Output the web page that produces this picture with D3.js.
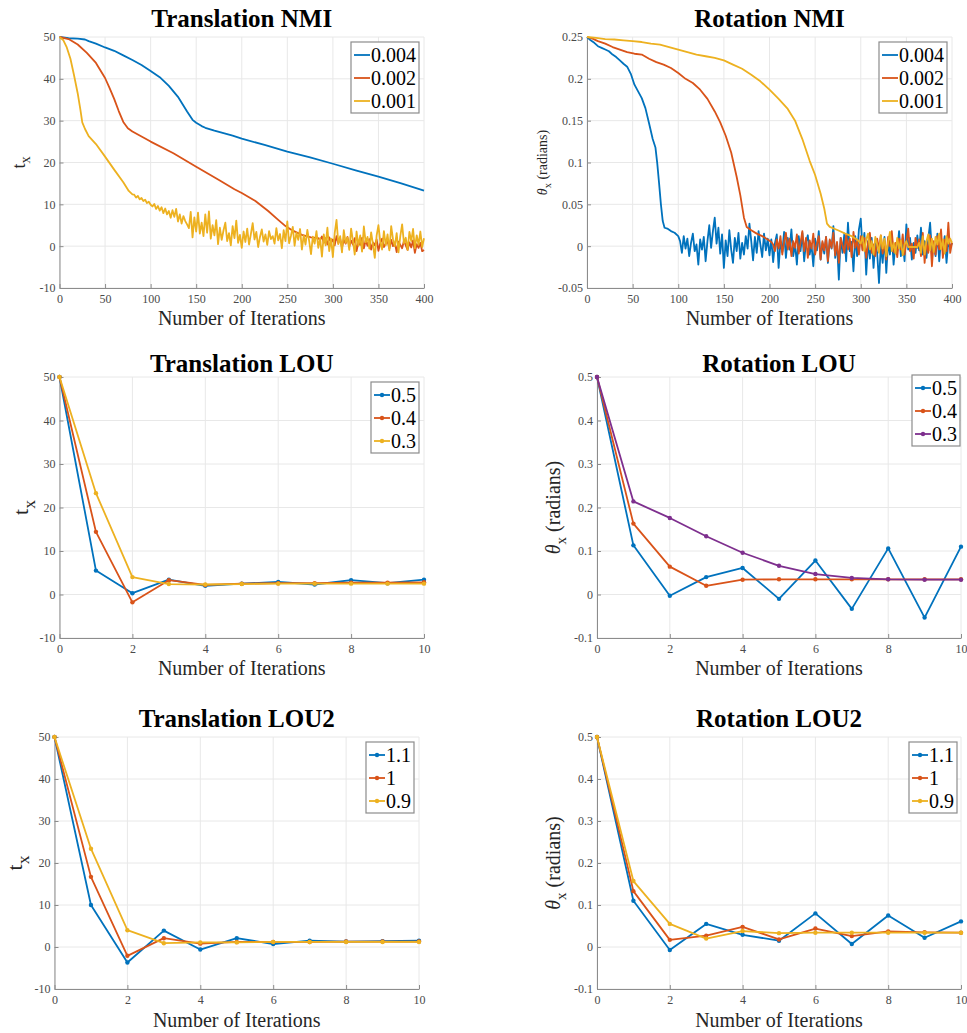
<!DOCTYPE html>
<html>
<head>
<meta charset="utf-8">
<script src="https://cdn.jsdelivr.net/npm/d3@7"></script>
<style>
  body { margin: 0; background: #fff; }
  svg { display: block; }
</style>
</head>
<body>
<div id="chart"></div>
<script>
// ---------------- data ----------------
var nmiLegend = ["0.004", "0.002", "0.001"];
var louLegend = ["0.5", "0.4", "0.3"];
var lou2Legend = ["1.1", "1", "0.9"];

var nmiTicksX = [0, 50, 100, 150, 200, 250, 300, 350, 400];
var louTicksX = [0, 2, 4, 6, 8, 10];
var transTicksY = [-10, 0, 10, 20, 30, 40, 50];
var rotNmiTicksY = [-0.05, 0, 0.05, 0.1, 0.15, 0.2, 0.25];
var rotLouTicksY = [-0.1, 0, 0.1, 0.2, 0.3, 0.4, 0.5];

// Translation NMI  [iteration, tx]
var tNmi004 = [[0,50],[10,49.7],[20,49.6],[28,49.4],[32,49],[40,48.4],[50,47.5],[60,46.7],[70,45.6],[80,44.5],
  [90,43.3],[100,41.9],[110,40.4],[120,38.3],[130,35.7],[140,32.2],[146,30.2],[150,29.5],[156,28.7],[160,28.3],
  [170,27.6],[180,27.0],[190,26.4],[200,25.7],[225,24.2],[250,22.6],[275,21.2],[300,19.7],[325,18.1],[350,16.6],[375,15.0],[400,13.3]];

var tNmi002 = [[0,50],[10,49.5],[20,48.2],[30,46.2],[40,43.8],[50,40.2],[55,37.8],[60,35.2],[65,32.3],[70,29.7],
  [75,28.2],[80,27.4],[90,26.2],[100,25],[125,22.2],[150,19],[175,15.8],[192,13.6],[200,12.7],[215,10.8],
  [229,8.4],[240,6.3],[248,4.8],[256,3.7],[266,2.7],[276,2.1],[284,1.9]];
var tNmi002NoiseStart = 286;
var tNmi002Noise = [1.5, 2.3, 0.8, 1.9, 0.4, 2.1, 0.9, 1.6,
  0.2, 2.4, 0.7, 1.8, -0.3, 1.5, 0.6, 2.2, -0.1, 1.3,
  0.4, 1.9, -1.2, 1.0, 0.3, 2.0, -0.5, 1.4, 0.1, 1.7,
  -0.8, 0.9, 0.2, 1.6, -1.1, 0.7, 1.8, -0.2, 0.6, 1.2,
  -0.6, 1.5, 0.0, 0.8, -1.4, 1.1, 0.3, -0.5, 1.3, 0.2,
  -0.9, 0.9, -0.3, 1.4, -1.6, 0.5, -0.4, 0.8, -1.2, -0.9];

var tNmi001 = [[0,50],[4,49.3],[8,47.5],[12,44.8],[16,40.8],[20,36.5],[23,32.5],[25,29.6],[28,28],[32,26.3],
  [40,24.4],[50,21.4],[60,18.3],[70,15.3],[76,13.2],[80,12.4]];
var tNmi001NoiseStart = 82;
var tNmi001Noise = [12.3, 11.6, 12.0, 11.2, 11.5, 10.8, 11.1, 10.3, 10.6, 9.9,
  9.5, 10.1, 8.9, 9.6, 8.5, 9.3, 7.9, 9.0, 7.6, 8.4,
  6.8, 8.6, 7.0, 8.9, 5.9, 7.6, 5.4, 7.2, 6.0, 5.2,
  4.3, 8.2, 2.1, 6.9, 3.5, 8.0, 3.0, 5.6, 2.4, 7.6,
  3.2, 8.3, 1.8, 5.0, 2.6, 6.2, 0.5, 4.4, 1.5, 3.8,
  5.6, 1.2, 3.1, 0.2, 4.8, 1.9, 6.1, 0.8, 2.7, -0.4,
  3.5, 1.0, 4.2, 0.4, 2.9, 5.5, 1.6, 3.4, -0.2, 2.2,
  4.0, 1.1, 2.8, 0.3, 3.6, 1.7, 2.4, 0.6, 4.3, 1.4,
  2.9, -0.5, 3.8, 1.2, 5.9, 0.7, 2.5, 4.6, 0.1, 3.3,
  1.5, 4.1, -0.8, 2.6, 0.4, 3.9, 1.2, -1.9, 2.3, 0.6,
  3.6, -0.4, 1.9, -2.5, 2.8, 0.2, 4.4, -1.2, 1.8, -2.6,
  3.1, 6.3, 0.5, 2.4, -1.5, 3.8, 0.8, 2.1, -0.9, 4.2,
  1.3, -2.0, 3.5, 0.1, 2.6, -1.3, 4.7, 0.9, 2.2, -0.6,
  3.3, 0.4, -2.8, 2.5, 5.0, 1.1, -0.8, 3.6, 0.2, 2.8,
  -1.0, 4.8, 1.6, 0.0, 3.1, -1.5, 2.4, 5.2, 0.7, 2.0,
  -0.9, 3.4, 1.2, 4.1, -0.5, 2.6, 0.3, 3.5, -0.2, 1.9];

// Rotation NMI  [iteration, theta_x]
var rNmi004 = [[0,0.25],[4,0.246],[8,0.243],[12,0.239],[16,0.237],[20,0.235],[24,0.233],[28,0.229],[32,0.226],
  [36,0.222],[40,0.218],[44,0.2145],[48,0.206],[52,0.193],[56,0.185],[60,0.177],[64,0.165],[68,0.147],[72,0.128],
  [75,0.118],[77,0.099],[79,0.075],[81,0.05],[83,0.03],[85,0.022],[88,0.021],[92,0.018],[96,0.016],[100,0.012]];
var rNmi004NoiseStart = 102;
var rNmi004Noise = [0.006, -0.008, 0.012, -0.003, 0.009, -0.012, 0.004, 0.015, -0.006, 0.002,
  -0.022, 0.008, -0.004, 0.011, -0.018, 0.006, 0.025, -0.002, 0.018, 0.034,
  0.003, 0.022, -0.009, 0.014, -0.026, 0.007, -0.012, 0.019, -0.004, -0.020,
  0.010, -0.006, 0.016, -0.015, 0.004, -0.010, 0.012, -0.003, 0.027, 0.006,
  -0.017, 0.011, -0.008, 0.018, 0.002, -0.013, 0.015, -0.005, 0.009, -0.011,
  0.008, -0.019, 0.004, 0.014, -0.026, 0.006, -0.007, 0.017, -0.014, 0.010,
  -0.004, 0.020, -0.012, 0.003, -0.022, 0.012, -0.006, 0.016, -0.018, 0.005,
  0.013, -0.010, 0.002, -0.024, 0.009, -0.005, 0.018, -0.016, 0.004, -0.009,
  0.011, -0.020, 0.007, -0.003, 0.024, -0.014, 0.003, -0.040, 0.010, -0.008,
  0.015, -0.018, 0.028, -0.006, 0.005, -0.030, 0.012, -0.012, 0.020, 0.033,
  -0.004, 0.016, -0.034, 0.006, -0.015, 0.010, -0.026, 0.004, -0.008, -0.044,
  0.002, -0.020, 0.011, -0.032, 0.006, -0.010, 0.014, -0.022, 0.003, -0.006,
  0.018, -0.012, 0.007, -0.018, 0.026, -0.004, 0.010, -0.016, 0.004, -0.008,
  0.013, -0.005, 0.022, -0.010, 0.006, -0.014, 0.009, 0.028, -0.006, 0.003,
  -0.012, 0.015, -0.018, 0.008, -0.004, 0.012, -0.020, 0.006, -0.002, 0.004];

var rNmi002 = [[0,0.25],[6,0.248],[12,0.245],[20,0.242],[28,0.238],[36,0.235],[44,0.232],[52,0.23],[60,0.229],
  [68,0.224],[76,0.22],[84,0.217],[92,0.213],[100,0.207],[108,0.2],[116,0.195],[124,0.187],[132,0.176],[140,0.161],
  [146,0.148],[152,0.132],[158,0.112],[164,0.083],[168,0.061],[172,0.034],[175,0.023],[180,0.019],[186,0.015],
  [192,0.012],[198,0.008],[202,0.005]];
var rNmi002NoiseStart = 204;
var rNmi002Noise = [0.002, -0.006, 0.008, -0.003, 0.012, -0.010, 0.005, 0.016, -0.004, 0.009,
  -0.012, 0.006, -0.002, 0.014, -0.009, 0.004, 0.018, -0.006, 0.010, -0.014,
  0.007, -0.003, 0.015, -0.010, 0.003, 0.012, -0.016, 0.006, -0.005, 0.011,
  -0.018, 0.008, -0.002, 0.016, -0.011, 0.005, -0.020, 0.010, 0.001, -0.008,
  0.014, -0.004, 0.009, -0.013, 0.017, -0.002, 0.006, -0.010, 0.012, -0.005,
  0.010, -0.014, 0.004, 0.016, -0.008, 0.002, -0.012, 0.009, -0.003, 0.013,
  -0.009, 0.006, -0.016, 0.011, 0.000, 0.018, -0.007, 0.004, -0.013, 0.009,
  -0.004, 0.014, -0.010, 0.006, 0.021, -0.006, 0.003, -0.015, 0.010, -0.002,
  0.008, -0.012, 0.016, -0.020, 0.005, -0.008, 0.013, -0.024, 0.006, -0.010,
  0.012, -0.004, 0.020, -0.014, 0.008, -0.006, 0.028, -0.008, 0.004];

var rNmi001 = [[0,0.25],[10,0.249],[20,0.2475],[30,0.247],[40,0.246],[50,0.245],[60,0.244],[70,0.242],[80,0.241],
  [90,0.238],[100,0.235],[110,0.232],[120,0.229],[130,0.227],[140,0.225],[150,0.222],[160,0.217],[170,0.212],
  [180,0.205],[190,0.197],[200,0.187],[210,0.176],[220,0.164],[228,0.15],[236,0.128],[244,0.102],[250,0.085],
  [256,0.063],[260,0.045],[263,0.027],[266,0.023],[275,0.019],[283,0.015],[290,0.012],[297,0.007]];
var rNmi001NoiseStart = 300;
var rNmi001Noise = [0.003, 0.012, -0.006, 0.008, 0.015, -0.004, 0.006, -0.010, 0.011, 0.002,
  -0.008, 0.013, -0.003, 0.009, -0.012, 0.005, 0.017, -0.006, 0.004, -0.009,
  0.010, -0.003, 0.007, -0.011, 0.002, 0.006, -0.001, -0.001, -0.001, -0.001,
  -0.001, -0.001, 0.004, -0.008, 0.012, -0.010, 0.006, 0.014, -0.005, 0.009,
  -0.007, 0.011, 0.002, 0.015, -0.004, 0.008, -0.009, 0.012, 0.003, 0.009,
  0.004];

// LOU / LOU2, one value per iteration 0..10
var louIter = [0, 1, 2, 3, 4, 5, 6, 7, 8, 9, 10];
var tLou05 = [50, 5.5, 0.3, 3.4, 2.0, 2.5, 2.9, 2.3, 3.3, 2.6, 3.4];
var tLou04 = [50, 14.4, -1.8, 3.3, 2.2, 2.5, 2.6, 2.6, 2.7, 2.7, 2.8];
var tLou03 = [50, 23.3, 4.0, 2.4, 2.3, 2.4, 2.5, 2.5, 2.5, 2.5, 2.5];

var rLou05 = [0.5, 0.113, -0.003, 0.040, 0.061, -0.010, 0.078, -0.033, 0.106, -0.053, 0.110];
var rLou04 = [0.5, 0.163, 0.064, 0.020, 0.034, 0.035, 0.035, 0.035, 0.035, 0.035, 0.035];
var rLou03 = [0.5, 0.214, 0.176, 0.134, 0.096, 0.066, 0.047, 0.038, 0.035, 0.034, 0.034];

var tLou2_11 = [50, 10.0, -3.7, 3.9, -0.6, 2.1, 0.7, 1.5, 1.3, 1.4, 1.5];
var tLou2_1 = [50, 16.7, -2.1, 2.1, 0.8, 1.2, 1.2, 1.2, 1.3, 1.3, 1.3];
var tLou2_09 = [50, 23.4, 4.0, 0.9, 1.1, 1.1, 1.2, 1.2, 1.2, 1.2, 1.2];

var rLou2_11 = [0.5, 0.110, -0.007, 0.055, 0.029, 0.015, 0.080, 0.007, 0.075, 0.022, 0.061];
var rLou2_1 = [0.5, 0.133, 0.017, 0.027, 0.048, 0.018, 0.044, 0.026, 0.037, 0.035, 0.034];
var rLou2_09 = [0.5, 0.157, 0.055, 0.020, 0.038, 0.033, 0.034, 0.034, 0.034, 0.034, 0.034];

// ---------------- helpers ----------------
var blue = "#0072BD", orange = "#D95319", yellow = "#EDB120", purple = "#7E2F8E";
var serif = "'Liberation Serif', 'Times New Roman', serif";
var axisColor = "#8c8c8c";
var gridColor = "#e8e8e8";

function withNoise(pairs, start, noise) {
  return pairs.concat(noise.map((v, i) => [start + 2 * i, v]));
}
function byIter(vals) {
  return vals.map((v, i) => [louIter[i], v]);
}
function fmt(d) {
  return String(Math.round(d * 1000) / 1000);
}

var svg = d3.select("#chart")
  .append("svg")
  .attr("width", 967)
  .attr("height", 1033)
  .style("background", "#fff");

var panels = [
  { title: "Translation NMI", left: 59.5, right: 424, top: 37, bottom: 288, titleY: 27, xLabelY: 325,
    xDomain: [0, 400], xTicks: nmiTicksX, yDomain: [-10, 50], yTicks: transTicksY,
    yLabel: "t", yLabelX: 25, yLabelSize: 18,
    legendRight: 419, legendTop: 42, markers: false, names: nmiLegend,
    series: [
      { color: blue, data: tNmi004 },
      { color: orange, data: withNoise(tNmi002, tNmi002NoiseStart, tNmi002Noise) },
      { color: yellow, data: withNoise(tNmi001, tNmi001NoiseStart, tNmi001Noise) }
    ] },
  { title: "Rotation NMI", left: 587, right: 952, top: 37, bottom: 288, titleY: 27, xLabelY: 325,
    xDomain: [0, 400], xTicks: nmiTicksX, yDomain: [-0.05, 0.25], yTicks: rotNmiTicksY,
    yLabel: "theta", yLabelX: 547, yLabelSize: 14,
    legendRight: 947, legendTop: 42, markers: false, names: nmiLegend,
    series: [
      { color: blue, data: withNoise(rNmi004, rNmi004NoiseStart, rNmi004Noise) },
      { color: orange, data: withNoise(rNmi002, rNmi002NoiseStart, rNmi002Noise) },
      { color: yellow, data: withNoise(rNmi001, rNmi001NoiseStart, rNmi001Noise) }
    ] },
  { title: "Translation LOU", left: 59.5, right: 424, top: 377, bottom: 638, titleY: 372, xLabelY: 675,
    xDomain: [0, 10], xTicks: louTicksX, yDomain: [-10, 50], yTicks: transTicksY,
    yLabel: "t", yLabelX: 28, yLabelSize: 22,
    legendRight: 419, legendTop: 382, markers: true, names: louLegend,
    series: [
      { color: blue, data: byIter(tLou05) },
      { color: orange, data: byIter(tLou04) },
      { color: yellow, data: byIter(tLou03) }
    ] },
  { title: "Rotation LOU", left: 597, right: 961, top: 377, bottom: 638, titleY: 372, xLabelY: 675,
    xDomain: [0, 10], xTicks: louTicksX, yDomain: [-0.1, 0.5], yTicks: rotLouTicksY,
    yLabel: "theta", yLabelX: 560, yLabelSize: 20,
    legendRight: 960, legendTop: 375, markers: true, names: louLegend,
    series: [
      { color: blue, data: byIter(rLou05) },
      { color: orange, data: byIter(rLou04) },
      { color: purple, data: byIter(rLou03) }
    ] },
  { title: "Translation LOU2", left: 54.5, right: 419, top: 737, bottom: 989, titleY: 727, xLabelY: 1027,
    xDomain: [0, 10], xTicks: louTicksX, yDomain: [-10, 50], yTicks: transTicksY,
    yLabel: "t", yLabelX: 22, yLabelSize: 22,
    legendRight: 414, legendTop: 742, markers: true, names: lou2Legend,
    series: [
      { color: blue, data: byIter(tLou2_11) },
      { color: orange, data: byIter(tLou2_1) },
      { color: yellow, data: byIter(tLou2_09) }
    ] },
  { title: "Rotation LOU2", left: 597, right: 961, top: 737, bottom: 989, titleY: 727, xLabelY: 1027,
    xDomain: [0, 10], xTicks: louTicksX, yDomain: [-0.1, 0.5], yTicks: rotLouTicksY,
    yLabel: "theta", yLabelX: 560, yLabelSize: 20,
    legendRight: 957, legendTop: 742, markers: true, names: lou2Legend,
    series: [
      { color: blue, data: byIter(rLou2_11) },
      { color: orange, data: byIter(rLou2_1) },
      { color: yellow, data: byIter(rLou2_09) }
    ] }
];

panels.forEach(drawPanel);

function drawPanel(p) {
  var g = svg.append("g");
  var x = d3.scaleLinear().domain(p.xDomain).range([p.left, p.right]);
  var y = d3.scaleLinear().domain(p.yDomain).range([p.bottom, p.top]);

  // grid
  g.append("g").selectAll("line")
    .data(p.xTicks)
    .enter()
    .append("line")
    .attr("x1", d => x(d)).attr("x2", d => x(d))
    .attr("y1", p.top).attr("y2", p.bottom)
    .attr("stroke", gridColor);
  g.append("g").selectAll("line")
    .data(p.yTicks)
    .enter()
    .append("line")
    .attr("x1", p.left).attr("x2", p.right)
    .attr("y1", d => y(d)).attr("y2", d => y(d))
    .attr("stroke", gridColor);

  // axes
  var xAxis = g.append("g")
    .attr("transform", `translate(0, ${p.bottom})`)
    .call(d3.axisBottom(x).tickValues(p.xTicks).tickFormat(fmt)
      .tickSizeInner(-4).tickSizeOuter(0).tickPadding(6));
  var yAxis = g.append("g")
    .attr("transform", `translate(${p.left}, 0)`)
    .call(d3.axisLeft(y).tickValues(p.yTicks).tickFormat(fmt)
      .tickSizeInner(-4).tickSizeOuter(0).tickPadding(4));
  [xAxis, yAxis].forEach(function(a) {
    a.attr("font-family", serif).attr("font-size", 12);
    a.select(".domain").attr("stroke", axisColor);
    a.selectAll(".tick line").attr("stroke", axisColor);
    a.selectAll(".tick text").attr("fill", "#4a4a4a");
  });

  // lines
  var line = d3.line().x(d => x(d[0])).y(d => y(d[1]));
  p.series.forEach(function(s) {
    g.append("path")
      .datum(s.data)
      .attr("fill", "none")
      .attr("stroke", s.color)
      .attr("stroke-width", 1.8)
      .attr("stroke-linejoin", "round")
      .attr("d", line);
    if (p.markers) {
      g.append("g").selectAll("circle")
        .data(s.data)
        .enter()
        .append("circle")
        .attr("cx", d => x(d[0]))
        .attr("cy", d => y(d[1]))
        .attr("r", 2.2)
        .attr("fill", s.color);
    }
  });

  // title
  g.append("text")
    .attr("x", (p.left + p.right) / 2)
    .attr("y", p.titleY)
    .attr("text-anchor", "middle")
    .attr("font-family", serif)
    .attr("font-weight", "bold")
    .attr("font-size", 25)
    .text(p.title);

  // x label
  g.append("text")
    .attr("x", (p.left + p.right) / 2)
    .attr("y", p.xLabelY)
    .attr("text-anchor", "middle")
    .attr("font-family", serif)
    .attr("font-size", 20)
    .attr("fill", "#262626")
    .text("Number of Iterations");

  // y label
  var yl = g.append("text")
    .attr("transform", `translate(${p.yLabelX}, ${(p.top + p.bottom) / 2}) rotate(-90)`)
    .attr("text-anchor", "middle")
    .attr("font-family", serif)
    .attr("font-size", p.yLabelSize)
    .attr("fill", "#262626");
  if (p.yLabel === "t") {
    yl.append("tspan").text("t");
    yl.append("tspan").attr("font-size", p.yLabelSize * 0.8).attr("dy", p.yLabelSize * 0.3).text("x");
  } else {
    yl.append("tspan").attr("font-style", "italic").text("θ");
    yl.append("tspan").attr("font-size", p.yLabelSize * 0.75).attr("dy", p.yLabelSize * 0.3).text("x");
    yl.append("tspan").attr("dy", -p.yLabelSize * 0.3).text(" (radians)");
  }

  drawLegend(g, p);
}

function drawLegend(g, p) {
  var lg = g.append("g");
  var box = lg.append("rect")
    .attr("fill", "#fff")
    .attr("stroke", "#8c8c8c")
    .attr("stroke-width", 1.2);
  var maxW = 0;
  p.series.forEach(function(s, i) {
    var cy = 13 + i * 23;
    lg.append("line")
      .attr("x1", 3).attr("x2", 19)
      .attr("y1", cy).attr("y2", cy)
      .attr("stroke", s.color)
      .attr("stroke-width", 1.8);
    if (p.markers) {
      lg.append("circle").attr("cx", 11).attr("cy", cy).attr("r", 2.2).attr("fill", s.color);
    }
    var t = lg.append("text")
      .attr("x", 20)
      .attr("y", cy)
      .attr("dy", "0.35em")
      .attr("font-family", serif)
      .attr("font-size", 20)
      .attr("fill", "#000")
      .text(p.names[i]);
    maxW = Math.max(maxW, t.node().getComputedTextLength());
  });
  var w = 20 + maxW + 3;
  box.attr("x", 0).attr("y", 0).attr("width", w).attr("height", 71);
  lg.attr("transform", `translate(${p.legendRight - w}, ${p.legendTop})`);
}
</script>
</body>
</html>
